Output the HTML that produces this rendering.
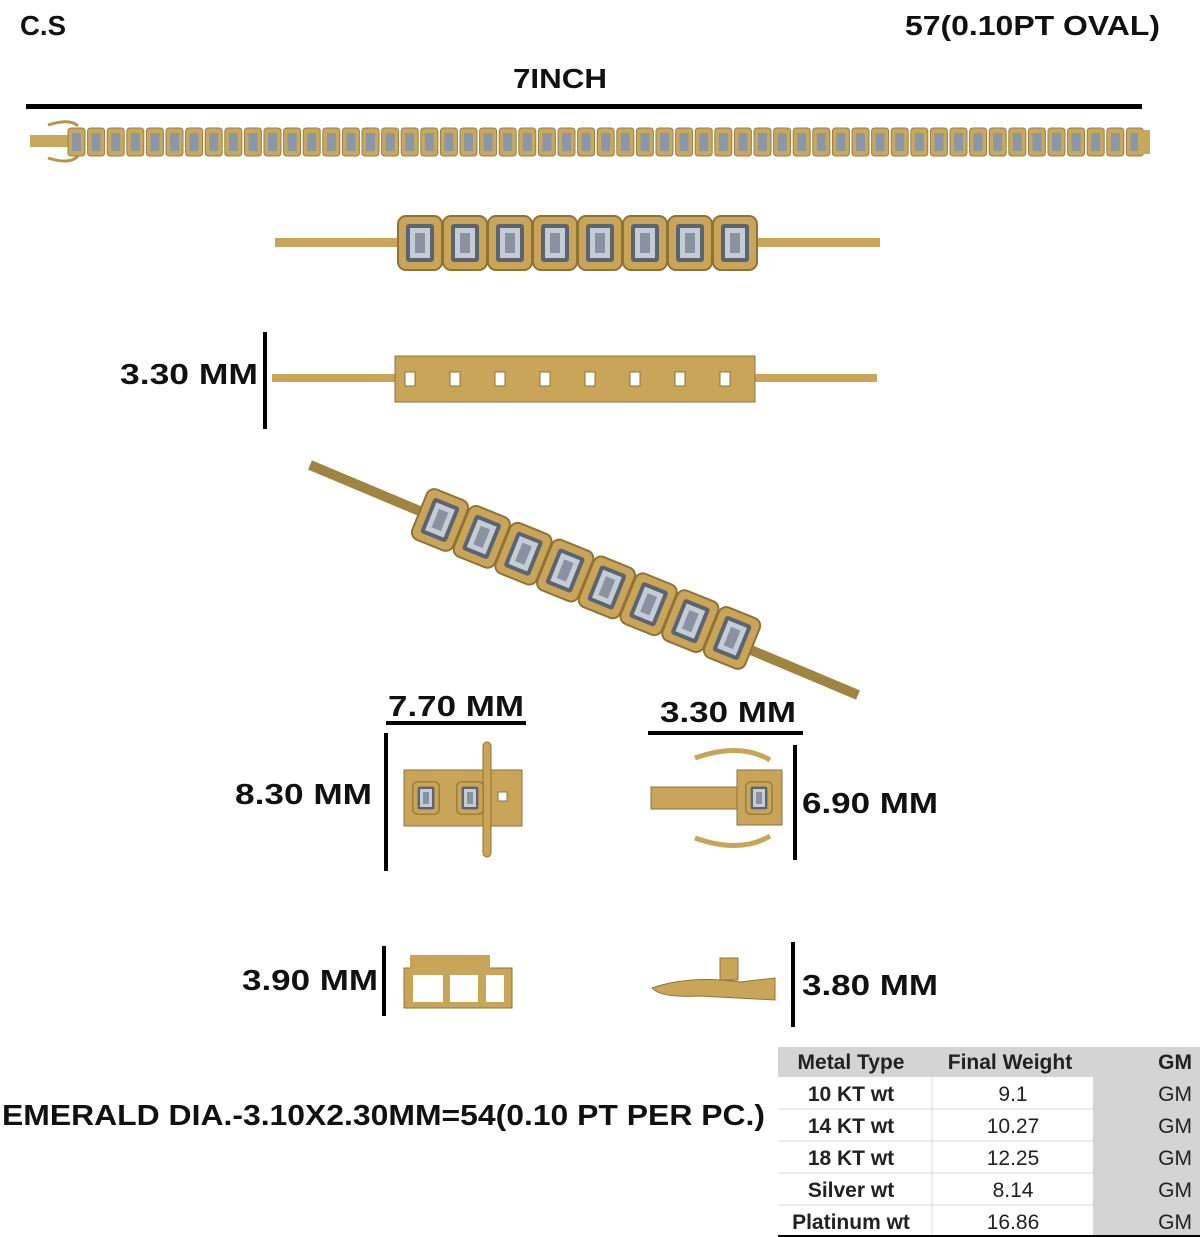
<!DOCTYPE html>
<html><head><style>
body{margin:0;background:#fff;width:1200px;height:1237px;overflow:hidden;font-family:"Liberation Sans",sans-serif}
svg{position:absolute;left:0;top:0}
.t{font-family:"Liberation Sans",sans-serif;font-weight:bold;fill:#111}
</style></head><body>
<svg width="1200" height="1237" viewBox="0 0 1200 1237">
<defs>
<g id="lk"><rect x="0" y="0" width="17" height="28" rx="3" fill="#c8a75e" stroke="#9c7f3c"/><rect x="4" y="5" width="9" height="18" fill="#8c97a6"/></g>
<g id="bl"><rect x="-22" y="-27" width="44" height="54" rx="8" fill="#c9a55a" stroke="#8f7335" stroke-width="2"/><rect x="-14" y="-19" width="28" height="38" rx="3" fill="#5c6470"/><rect x="-10" y="-15" width="20" height="30" fill="#c4ccd6"/><rect x="-5" y="-10" width="10" height="20" fill="#8892a0"/></g>
</defs>
<text class="t" x="20" y="35" font-size="28" textLength="46" lengthAdjust="spacingAndGlyphs">C.S</text>
<text class="t" x="905" y="35" font-size="28" textLength="255" lengthAdjust="spacingAndGlyphs">57(0.10PT OVAL)</text>
<text class="t" x="513" y="88" font-size="28" textLength="94" lengthAdjust="spacingAndGlyphs">7INCH</text>
<rect x="26" y="104" width="1116" height="5" fill="#000"/>
<rect x="30" y="135" width="40" height="12" fill="#c8a75e"/>
<path d="M48 125 Q70 118 78 126 M48 158 Q70 165 78 156" stroke="#b8954a" stroke-width="3" fill="none"/>
<g id="chain"></g>
<rect x="1138" y="130" width="12" height="24" fill="#c8a75e"/>
<rect x="275" y="238" width="605" height="9" fill="#c9a55a"/>
<g transform="translate(420,243)"><use href="#bl"/></g><g transform="translate(465,243)"><use href="#bl"/></g><g transform="translate(510,243)"><use href="#bl"/></g><g transform="translate(555,243)"><use href="#bl"/></g><g transform="translate(600,243)"><use href="#bl"/></g><g transform="translate(645,243)"><use href="#bl"/></g><g transform="translate(690,243)"><use href="#bl"/></g><g transform="translate(735,243)"><use href="#bl"/></g>
<text class="t" x="120" y="384" font-size="29" textLength="138" lengthAdjust="spacingAndGlyphs">3.30 MM</text>
<rect x="263" y="332" width="4" height="97" fill="#000"/>
<rect x="272" y="374" width="605" height="8" fill="#c9a55a"/>
<rect x="395" y="356" width="360" height="46" fill="#c9a55a" stroke="#8f7335"/>
<g fill="#fff" stroke="#8f7335">
<rect x="405" y="372" width="10" height="14"/><rect x="450" y="372" width="10" height="14"/><rect x="495" y="372" width="10" height="14"/><rect x="540" y="372" width="10" height="14"/><rect x="585" y="372" width="10" height="14"/><rect x="630" y="372" width="10" height="14"/><rect x="675" y="372" width="10" height="14"/><rect x="720" y="372" width="10" height="14"/></g>
<line x1="310" y1="465" x2="858" y2="695" stroke="#a08441" stroke-width="10"/>
<g transform="translate(440,520) rotate(22)"><use href="#bl"/><use href="#bl" transform="translate(45,0)"/><use href="#bl" transform="translate(90,0)"/><use href="#bl" transform="translate(135,0)"/><use href="#bl" transform="translate(180,0)"/><use href="#bl" transform="translate(225,0)"/><use href="#bl" transform="translate(270,0)"/><use href="#bl" transform="translate(315,0)"/></g>
<text class="t" x="388" y="716" font-size="29" textLength="136" lengthAdjust="spacingAndGlyphs">7.70 MM</text>
<rect x="386" y="721" width="140" height="4" fill="#000"/>
<text class="t" x="235" y="804" font-size="29" textLength="137" lengthAdjust="spacingAndGlyphs">8.30 MM</text>
<rect x="384" y="733" width="4" height="138" fill="#000"/>
<rect x="404" y="770" width="118" height="56" fill="#c9a55a" stroke="#8f7335"/>
<rect x="483" y="742" width="8" height="115" rx="4" fill="#c9a55a" stroke="#8f7335"/>
<g transform="translate(426,798) scale(0.6)"><use href="#bl"/></g><g transform="translate(470,798) scale(0.6)"><use href="#bl"/></g>
<rect x="498" y="792" width="9" height="9" fill="#fff" stroke="#8f7335"/>
<text class="t" x="660" y="722" font-size="29" textLength="136" lengthAdjust="spacingAndGlyphs">3.30 MM</text>
<rect x="648" y="731" width="155" height="4" fill="#000"/>
<rect x="793" y="745" width="4" height="115" fill="#000"/>
<text class="t" x="802" y="813" font-size="29" textLength="136" lengthAdjust="spacingAndGlyphs">6.90 MM</text>
<rect x="651" y="787" width="90" height="22" fill="#c9a55a" stroke="#8f7335"/>
<rect x="737" y="770" width="45" height="55" fill="#c9a55a" stroke="#8f7335"/>
<g transform="translate(759,798) scale(0.6)"><use href="#bl"/></g>
<path d="M695 758 Q740 742 770 760 M695 838 Q740 854 770 836" stroke="#c9a55a" stroke-width="5" fill="none"/>
<text class="t" x="242" y="990" font-size="29" textLength="136" lengthAdjust="spacingAndGlyphs">3.90 MM</text>
<rect x="382" y="946" width="4" height="70" fill="#000"/>
<rect x="404" y="968" width="108" height="40" fill="#c9a55a" stroke="#8f7335"/>
<rect x="413" y="975" width="30" height="27" fill="#fff"/><rect x="450" y="975" width="28" height="27" fill="#fff"/><rect x="486" y="975" width="18" height="27" fill="#fff"/>
<rect x="410" y="955" width="80" height="14" fill="#c9a55a"/>
<rect x="791" y="942" width="4" height="85" fill="#000"/>
<text class="t" x="802" y="995" font-size="29" textLength="136" lengthAdjust="spacingAndGlyphs">3.80 MM</text>
<path d="M652 988 Q690 975 740 982 L775 978 L775 1000 L700 996 Q660 998 652 988Z" fill="#c9a55a" stroke="#8f7335"/>
<rect x="720" y="958" width="18" height="22" fill="#c9a55a" stroke="#8f7335"/>
<text class="t" x="2" y="1125" font-size="29" textLength="763" lengthAdjust="spacingAndGlyphs">EMERALD DIA.-3.10X2.30MM=54(0.10 PT PER PC.)</text>
<rect x="778" y="1047" width="422" height="30" fill="#d4d4d4"/>
<rect x="1093" y="1077" width="107" height="160" fill="#d4d4d4"/>
<g stroke="#d8d8d8"><line x1="932" y1="1077" x2="932" y2="1237"/><line x1="778" y1="1109" x2="1093" y2="1109"/><line x1="778" y1="1141" x2="1093" y2="1141"/><line x1="778" y1="1173" x2="1093" y2="1173"/><line x1="778" y1="1205" x2="1093" y2="1205"/></g>
<rect x="778" y="1235" width="422" height="2" fill="#000"/>
<g font-size="21" font-family="Liberation Sans" fill="#222">
<text x="851" y="1069" text-anchor="middle" font-weight="bold">Metal Type</text>
<text x="1010" y="1069" text-anchor="middle" font-weight="bold">Final Weight</text>
<text x="1192" y="1069" text-anchor="end" font-weight="bold">GM</text>
<text x="851" y="1101" text-anchor="middle" font-weight="bold">10 KT wt</text>
<text x="851" y="1133" text-anchor="middle" font-weight="bold">14 KT wt</text>
<text x="851" y="1165" text-anchor="middle" font-weight="bold">18 KT wt</text>
<text x="851" y="1197" text-anchor="middle" font-weight="bold">Silver wt</text>
<text x="851" y="1229" text-anchor="middle" font-weight="bold">Platinum wt</text>
<text x="1013" y="1101" text-anchor="middle">9.1</text>
<text x="1013" y="1133" text-anchor="middle">10.27</text>
<text x="1013" y="1165" text-anchor="middle">12.25</text>
<text x="1013" y="1197" text-anchor="middle">8.14</text>
<text x="1013" y="1229" text-anchor="middle">16.86</text>
<text x="1192" y="1101" text-anchor="end">GM</text><text x="1192" y="1133" text-anchor="end">GM</text><text x="1192" y="1165" text-anchor="end">GM</text><text x="1192" y="1197" text-anchor="end">GM</text><text x="1192" y="1229" text-anchor="end">GM</text>
</g>
</svg>
<script>
var g=document.getElementById('chain'),s='';
for(var i=0;i<55;i++){s+='<use href="#lk" x="'+(68+i*19.6).toFixed(1)+'" y="128"/>';}
g.innerHTML=s;
</script>
</body></html>
